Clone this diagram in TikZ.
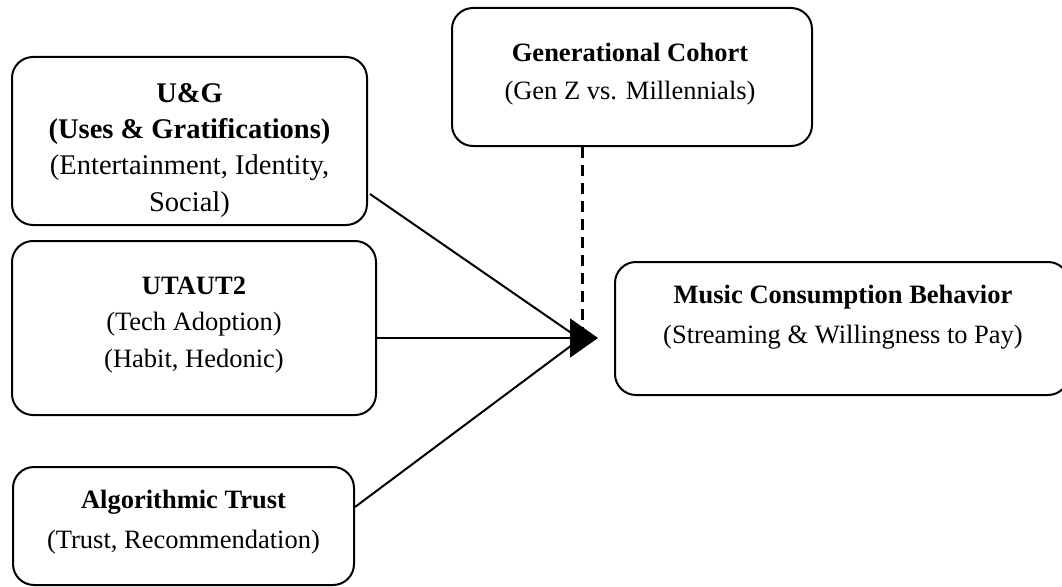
\documentclass[tikz,border=0pt]{standalone}
\usepackage{fontspec}
\setmainfont{Liberation Serif}
\usetikzlibrary{arrows.meta,calc}
\begin{document}
\begin{tikzpicture}[x=1pt,y=-1pt,
  box/.style={draw, line width=2pt, rounded corners=21pt, inner sep=0pt, outer sep=0pt},
  lbl/.style={anchor=base, inner sep=0pt, font=\fontsize{26.5}{30}\selectfont},
  lblb/.style={anchor=base, inner sep=0pt, font=\fontsize{26.5}{30}\selectfont\bfseries},
  lblbig/.style={anchor=base, inner sep=0pt, font=\fontsize{28.5}{32}\selectfont},
  lblbigb/.style={anchor=base, inner sep=0pt, font=\fontsize{28.5}{32}\selectfont\bfseries},
  conn/.style={draw, line width=2pt},
  dashline/.style={draw, line width=3pt, dash pattern=on 11pt off 7pt}]
\useasboundingbox (0,0) rectangle (1062,586);

% boxes
\node[box, minimum width=355pt, minimum height=168pt] (ug) at (189.5,141) {};
\node[box, minimum width=364pt, minimum height=174pt] (ut) at (194,328) {};
\node[box, minimum width=341pt, minimum height=118pt] (tr) at (183.5,526) {};
\node[box, minimum width=360pt, minimum height=138pt] (gen) at (632,77) {};
\node[box, minimum width=454pt, minimum height=133pt] (mu) at (842,328.5) {};

% texts
\node[lblbigb] (ug1) at (189.5,102) {U\&G};
\node[lblbigb] (ug2) at (189.5,138) {(Uses \& Gratifications)};
\node[lblbig] (ug3) at (189.5,174) {(Entertainment, Identity,};
\node[lblbig] (ug4) at (189.5,211) {Social)};

\node[lblb] (ut1) at (194,294) {UTAUT2};
\node[lbl] (ut2) at (194,330) {(Tech Adoption)};
\node[lbl] (ut3) at (194,367) {(Habit, Hedonic)};

\node[lblb] (tr1) at (183.5,508) {Algorithmic Trust};
\node[lbl] (tr2) at (183.5,548) {(Trust, Recommendation)};

\node[lblb] (gen1) at (630,62) {Generational Cohort};
\node[lbl] (gen2) at (630,99) {(Gen Z vs. Millennials)};

\node[lblb] (mu1) at (843,303) {Music Consumption Behavior};
\node[lbl] (mu2) at (843,343) {(Streaming \& Willingness to Pay)};

% connectors
\coordinate (m) at (580,339);
\coordinate (tip) at (598,338);
\coordinate (dend) at (582,328);
\draw[conn] ($(ug.east)+(3,53)$) -- (m);
\draw[conn] ($(tr.east)+(1,-19)$) -- (m);
\draw[conn, -{Triangle[length=28pt,width=39pt]}] ($(ut.east)+(0,10)$) -- (tip);
\draw[dashline] ($(gen.south)+(-50,1)$) -- (dend);
\end{tikzpicture}
\end{document}
